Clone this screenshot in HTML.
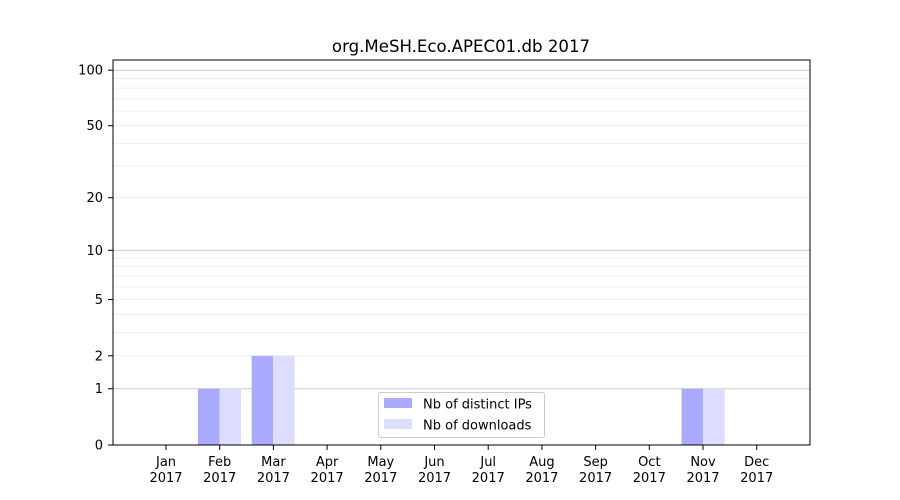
<!DOCTYPE html>
<html><head><meta charset="utf-8"><style>body{margin:0;background:#fff}svg{display:block;font-family:"DejaVu Sans","Liberation Sans",sans-serif}</style></head><body>
<svg width="900" height="500" xmlns="http://www.w3.org/2000/svg">
<rect width="900" height="500" fill="#fff"/>
<g stroke="#ececec" stroke-width="0.8">
<line x1="113" x2="810" y1="355.8" y2="355.8"/><line x1="113" x2="810" y1="332.4" y2="332.4"/><line x1="113" x2="810" y1="314.3" y2="314.3"/><line x1="113" x2="810" y1="299.5" y2="299.5"/><line x1="113" x2="810" y1="286.96" y2="286.96"/><line x1="113" x2="810" y1="276.1" y2="276.1"/><line x1="113" x2="810" y1="266.6" y2="266.6"/><line x1="113" x2="810" y1="258.0" y2="258.0"/>
<line x1="113" x2="810" y1="197.7" y2="197.7"/><line x1="113" x2="810" y1="166.1" y2="166.1"/><line x1="113" x2="810" y1="143.4" y2="143.4"/><line x1="113" x2="810" y1="125.7" y2="125.7"/><line x1="113" x2="810" y1="111.1" y2="111.1"/><line x1="113" x2="810" y1="98.8" y2="98.8"/><line x1="113" x2="810" y1="88.1" y2="88.1"/><line x1="113" x2="810" y1="78.7" y2="78.7"/>
</g>
<g stroke="#cccccc" stroke-width="1">
<line x1="113" x2="810" y1="388.7" y2="388.7"/><line x1="113" x2="810" y1="250.3" y2="250.3"/><line x1="113" x2="810" y1="70.2" y2="70.2"/>
</g>
<g>
<rect x="198" y="388.7" width="21.5" height="56.3" fill="#aaaaff"/><rect x="219.5" y="388.7" width="21.5" height="56.3" fill="#ddddff"/>
<rect x="251.7" y="355.8" width="21.5" height="89.2" fill="#aaaaff"/><rect x="273.2" y="355.8" width="21.5" height="89.2" fill="#ddddff"/>
<rect x="681.6" y="388.7" width="21.5" height="56.3" fill="#aaaaff"/><rect x="703.1" y="388.7" width="21.5" height="56.3" fill="#ddddff"/>
</g>
<rect x="113" y="60" width="697" height="385" fill="none" stroke="#000" stroke-width="1"/>
<g font-size="13" text-anchor="end" fill="#000">
<text x="103" y="449.5">0</text><text x="103" y="393.2">1</text><text x="103" y="360.3">2</text><text x="103" y="304">5</text><text x="103" y="254.8">10</text><text x="103" y="202.2">20</text><text x="103" y="130.2">50</text><text x="103" y="74.7">100</text>
</g>
<g stroke="#000"><line x1="108" x2="113" y1="445" y2="445"/><line x1="108" x2="113" y1="388.7" y2="388.7"/><line x1="108" x2="113" y1="355.8" y2="355.8"/><line x1="108" x2="113" y1="299.5" y2="299.5"/><line x1="108" x2="113" y1="250.3" y2="250.3"/><line x1="108" x2="113" y1="197.7" y2="197.7"/><line x1="108" x2="113" y1="125.7" y2="125.7"/><line x1="108" x2="113" y1="70.2" y2="70.2"/></g>
<g font-size="13" text-anchor="middle" fill="#000">
<g transform="translate(166,0)"><line x1="0" x2="0" y1="445" y2="450" stroke="#000"/><text y="466">Jan</text><text y="482">2017</text></g>
<g transform="translate(219.7,0)"><line x1="0" x2="0" y1="445" y2="450" stroke="#000"/><text y="466">Feb</text><text y="482">2017</text></g>
<g transform="translate(273.4,0)"><line x1="0" x2="0" y1="445" y2="450" stroke="#000"/><text y="466">Mar</text><text y="482">2017</text></g>
<g transform="translate(327.1,0)"><line x1="0" x2="0" y1="445" y2="450" stroke="#000"/><text y="466">Apr</text><text y="482">2017</text></g>
<g transform="translate(380.8,0)"><line x1="0" x2="0" y1="445" y2="450" stroke="#000"/><text y="466">May</text><text y="482">2017</text></g>
<g transform="translate(434.5,0)"><line x1="0" x2="0" y1="445" y2="450" stroke="#000"/><text y="466">Jun</text><text y="482">2017</text></g>
<g transform="translate(488.2,0)"><line x1="0" x2="0" y1="445" y2="450" stroke="#000"/><text y="466">Jul</text><text y="482">2017</text></g>
<g transform="translate(541.9,0)"><line x1="0" x2="0" y1="445" y2="450" stroke="#000"/><text y="466">Aug</text><text y="482">2017</text></g>
<g transform="translate(595.6,0)"><line x1="0" x2="0" y1="445" y2="450" stroke="#000"/><text y="466">Sep</text><text y="482">2017</text></g>
<g transform="translate(649.3,0)"><line x1="0" x2="0" y1="445" y2="450" stroke="#000"/><text y="466">Oct</text><text y="482">2017</text></g>
<g transform="translate(703,0)"><line x1="0" x2="0" y1="445" y2="450" stroke="#000"/><text y="466">Nov</text><text y="482">2017</text></g>
<g transform="translate(756.7,0)"><line x1="0" x2="0" y1="445" y2="450" stroke="#000"/><text y="466">Dec</text><text y="482">2017</text></g>
</g>
<text x="461" y="52" font-size="16.6" text-anchor="middle">org.MeSH.Eco.APEC01.db 2017</text>
<rect x="378.5" y="392.5" width="166" height="45" rx="2" fill="#fff" fill-opacity="0.8" stroke="#cccccc"/>
<rect x="384" y="398" width="28" height="10" fill="#aaaaff"/>
<rect x="384" y="419" width="28" height="10" fill="#ddddff"/>
<text x="423" y="408.5" font-size="13">Nb of distinct IPs</text>
<text x="423" y="429.5" font-size="13">Nb of downloads</text>
</svg>
</body></html>
